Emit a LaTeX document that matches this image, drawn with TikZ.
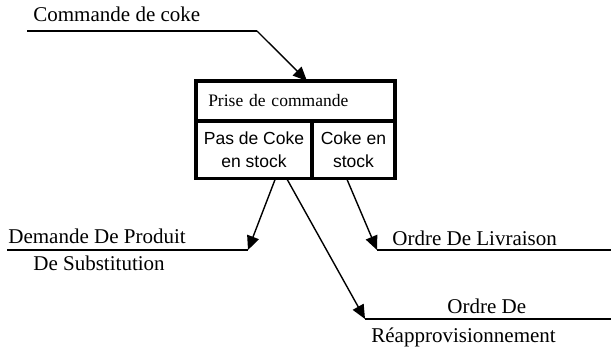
\documentclass[tikz,border=0pt]{standalone}
\usepackage{fontspec}
\setmainfont{Liberation Serif}
\setsansfont{Liberation Sans}
\usetikzlibrary{arrows.meta,positioning,calc}

\begin{document}
\begin{tikzpicture}[
        x=0.571pt, y=-0.571pt,
        cell/.style={draw=black, line width=1.8pt, inner sep=0pt, outer sep=0pt},
        cellsf/.style={cell, font=\sffamily\fontsize{10}{13}\selectfont, align=center},
        lbl/.style={font=\fontsize{12}{14}\selectfont, anchor=base west, inner sep=0pt},
        flow/.style={line width=0.8pt},
        arrow/.style={-{Triangle[length=8pt,width=7pt]}, line width=0.8pt}
    ]
    \useasboundingbox (0,0) rectangle (611,350);

    % the process box
    \node[cell, anchor=north west, minimum width=113.6pt, minimum height=22.8pt,
          text width=99.6pt, align=left, inner xsep=7pt, font=\fontsize{10}{12}\selectfont]
          (prise) at (196,81) {Prise de commande};
    \node[cellsf, anchor=north west, minimum width=66.2pt, minimum height=33.1pt]
          (pasde) at (prise.south west) {Pas de Coke\\en stock};
    \node[cellsf, anchor=north west, minimum width=47.4pt, minimum height=33.1pt]
          (enstock) at (pasde.north east) {Coke en\\stock};

    % flows
    \coordinate (cmdl) at (27,31);
    \coordinate (cmdr) at (257,31);
    \coordinate (dpl) at (7,250);
    \coordinate (dpr) at (248,250);
    \coordinate (livl) at (377,250);
    \coordinate (livr) at (611,250);
    \coordinate (real) at (365,319);
    \coordinate (rear) at (611,319);

    \node[lbl] (cmd) at (33,22) {Commande de coke};
    \node[lbl] (dp1) at (8,244) {Demande De Produit};
    \node[lbl] (dp2) at (33,271) {De Substitution};
    \node[lbl] (liv) at (392,246) {Ordre De Livraison};
    \node[lbl] (rea1) at (447,314) {Ordre De};
    \node[lbl] (rea2) at (371,343) {Réapprovisionnement};

    \draw[flow] (cmdl) -- (cmdr);
    \draw[arrow] (cmdr) -- ($(prise.north west)!0.558!(prise.north east)$);
    \draw[flow] (dpl) -- (dpr);
    \draw[arrow] ($(pasde.south west)!0.684!(pasde.south east)$) -- (dpr);
    \draw[flow] (livl) -- (livr);
    \draw[arrow] ($(enstock.south west)!0.42!(enstock.south east)$) -- (livl);
    \draw[flow] (real) -- (rear);
    \draw[arrow] ($(pasde.south west)!0.784!(pasde.south east)$) -- (real);

\end{tikzpicture}
\end{document}
